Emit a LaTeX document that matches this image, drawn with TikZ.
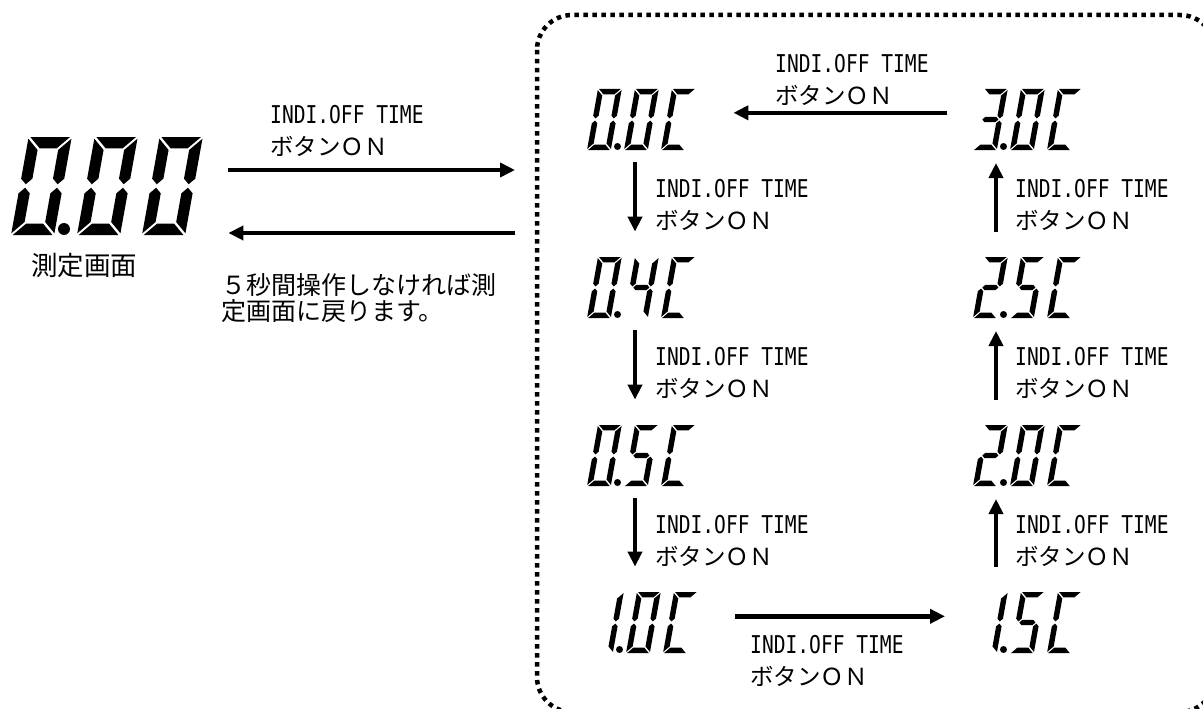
\documentclass[tikz,border=0pt]{standalone}
\usepackage{fontspec}
\usetikzlibrary{arrows.meta}
\newfontfamily\jpf{Noto Sans CJK JP}
\newfontfamily\latf[FakeStretch=0.8]{DejaVu Sans Mono}
% seven segment pieces (local units: height 2, width \SegW)
\def\segA{\fill (\SegG,2) -- (\SegW-\SegG,2) -- (\SegW-\SegT-\SegG,2-\SegT) -- (\SegT+\SegG,2-\SegT) -- cycle;}
\def\segB{\fill (\SegW,2-\SegG) -- (\SegW,1+\SegG+\SegT/2) -- (\SegW-\SegT/2,1+\SegG) -- (\SegW-\SegT,1+\SegG+\SegT/2) -- (\SegW-\SegT,2-\SegT-\SegG) -- cycle;}
\def\segC{\fill (\SegW,\SegG) -- (\SegW,1-\SegG-\SegT/2) -- (\SegW-\SegT/2,1-\SegG) -- (\SegW-\SegT,1-\SegG-\SegT/2) -- (\SegW-\SegT,\SegT+\SegG) -- cycle;}
\def\segD{\fill (\SegG,0) -- (\SegW-\SegG,0) -- (\SegW-\SegT-\SegG,\SegT) -- (\SegT+\SegG,\SegT) -- cycle;}
\def\segE{\fill (0,\SegG) -- (0,1-\SegG-\SegT/2) -- (\SegT/2,1-\SegG) -- (\SegT,1-\SegG-\SegT/2) -- (\SegT,\SegT+\SegG) -- cycle;}
\def\segF{\fill (0,2-\SegG) -- (0,1+\SegG+\SegT/2) -- (\SegT/2,1+\SegG) -- (\SegT,1+\SegG+\SegT/2) -- (\SegT,2-\SegT-\SegG) -- cycle;}
\def\segM{\fill (\SegT/2+\SegG,1) -- (\SegT+\SegG,1+\SegT/2) -- (\SegW-\SegT-\SegG,1+\SegT/2) -- (\SegW-\SegT/2-\SegG,1) -- (\SegW-\SegT-\SegG,1-\SegT/2) -- (\SegT+\SegG,1-\SegT/2) -- cycle;}
\def\DigZero{\segA\segB\segC\segD\segE\segF}
\def\DigOne{\segB\segC}
\def\DigTwo{\segA\segB\segM\segE\segD}
\def\DigThree{\segA\segB\segM\segC\segD}
\def\DigFour{\segF\segM\segB\segC}
\def\DigFive{\segA\segF\segM\segC\segD}
\def\DigCee{\segA\segF\segE\segD}
\newcommand\SevenSeg[3]{\begin{scope}[shift={(#1,#2)},xslant=0.18,x=\SegS pt,y=\SegS pt]#3\end{scope}}
\newcommand\BigSet{\def\SegW{0.88}\def\SegT{0.23}\def\SegG{0.035}\def\SegS{49}}
\newcommand\SmallSet{\def\SegW{0.78}\def\SegT{0.18}\def\SegG{0.035}\def\SegS{30.5}}
% small display: name, x, bottom y, three digits
\newcommand\SmallDisp[6]{%
  \SevenSeg{#2}{#3}{#4}\SevenSeg{#2+37}{#3}{#5}\SevenSeg{#2+74}{#3}{#6}%
  \fill (#2+30.5,#3-3.5) circle (3.5);
  \node[dispbox] (#1) at (#2,#3) {};}
\newcommand\Lab[3]{%
  \node[latlab] (#1-1) at (#2,#3) {INDI.OFF TIME};
  \node[jplab] (#1-2) at (#2,#3+32) {ボタンＯＮ};}
\begin{document}
\begin{tikzpicture}[x=1pt,y=-1pt,
  dispbox/.style={anchor=south west,inner sep=0,minimum width=106pt,minimum height=61pt},
  latlab/.style={anchor=base west,inner sep=0,font=\latf\fontsize{24.5}{24.5}\selectfont},
  jplab/.style={anchor=base west,inner sep=0,font=\jpf\fontsize{23.5}{23.5}\selectfont},
  jptext/.style={anchor=base west,inner sep=0,font=\jpf\fontsize{25}{25}\selectfont},
  arr/.style={line width=4.5pt,-{Triangle[length=15pt,width=14pt]}},
  dotbox/.style={line width=4.5pt,dash pattern=on 4.5pt off 4.5pt,rounded corners=35pt}]
\useasboundingbox (0,0) rectangle (1203,709);
\begin{scope}
  \clip (0,0) rectangle (1203,709);
  \draw[dotbox] (537,15) rectangle (1215,712);
\end{scope}
% big measuring display
\BigSet
\SevenSeg{11}{235}{\DigZero}\SevenSeg{77}{235}{\DigZero}\SevenSeg{142}{235}{\DigZero}
\fill (64,229) circle (6);
\node[anchor=south west,inner sep=0,minimum width=184pt,minimum height=98pt] (main) at (11,235) {};
\node[jptext,font=\jpf\fontsize{26.5}{26.5}\selectfont] (mainlab) at (31,275) {測定画面};
% small displays
\SmallSet
\SmallDisp{d00}{587}{150}{\DigZero}{\DigZero}{\DigCee}
\SmallDisp{d04}{587}{318}{\DigZero}{\DigFour}{\DigCee}
\SmallDisp{d05}{587}{486}{\DigZero}{\DigFive}{\DigCee}
\SmallDisp{d10}{589}{653}{\DigOne}{\DigZero}{\DigCee}
\SmallDisp{d30}{973}{150}{\DigThree}{\DigZero}{\DigCee}
\SmallDisp{d25}{973}{318}{\DigTwo}{\DigFive}{\DigCee}
\SmallDisp{d20}{973}{486}{\DigTwo}{\DigZero}{\DigCee}
\SmallDisp{d15}{973}{653}{\DigOne}{\DigFive}{\DigCee}
% arrows
\coordinate (colL) at (635,0);
\coordinate (colR) at (996,0);
\coordinate (inA) at (515,170);
\coordinate (inB) at (515,233);
\draw[arr,shorten <=33pt] (main.east |- inA) -- (inA);
\draw[arr,shorten >=33pt] (inB) -- (main.east |- inB);
\draw[arr,shorten <=26pt,shorten >=40pt] ([yshift=6.5pt]d30.west) -- ([yshift=6.5pt]d00.east);
\draw[arr,shorten <=40pt,shorten >=28pt] ([yshift=6pt]d10.east) -- ([yshift=6pt]d15.west);
\draw[arr,shorten <=12pt,shorten >=25pt] (d00.south -| colL) -- (d04.north -| colL);
\draw[arr,shorten <=12pt,shorten >=25pt] (d04.south -| colL) -- (d05.north -| colL);
\draw[arr,shorten <=12pt,shorten >=25pt] (d05.south -| colL) -- (d10.north -| colL);
\draw[arr,shorten <=25pt,shorten >=13pt] (d25.north -| colR) -- (d30.south -| colR);
\draw[arr,shorten <=25pt,shorten >=13pt] (d20.north -| colR) -- (d25.south -| colR);
\draw[arr,shorten <=25pt,shorten >=13pt] (d15.north -| colR) -- (d20.south -| colR);
% labels
\Lab{lin}{270}{123}
\Lab{ltop}{775}{73}
\Lab{lL1}{655}{197}
\Lab{lL2}{655}{365}
\Lab{lL3}{655}{533}
\Lab{lR1}{1015}{197}
\Lab{lR2}{1015}{365}
\Lab{lR3}{1015}{533}
\Lab{lbot}{750}{653}
\node[jptext] (ret1) at (221,294) {５秒間操作しなければ測};
\node[jptext] (ret2) at (221,320) {定画面に戻ります。};
\end{tikzpicture}
\end{document}
